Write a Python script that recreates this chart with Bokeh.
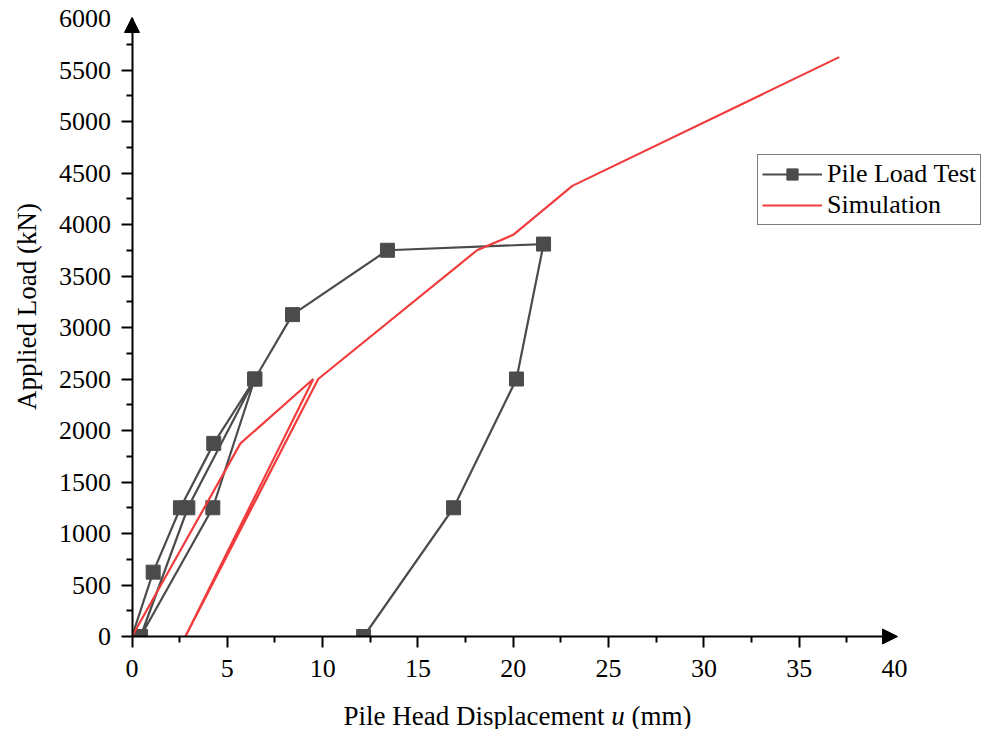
import math
from bokeh.plotting import figure
from bokeh.models import Range1d, FixedTicker, Label, Arrow, NormalHead, LinearAxis
from bokeh.embed import file_html
from bokeh.resources import INLINE

# ---- data ----
pile_x = [0, 1.11, 2.54, 4.29, 6.44, 4.24, 0.45, 2.93, 6.44, 8.42, 13.4, 21.59, 20.17, 16.87, 12.15]
pile_y = [0, 625, 1250, 1875, 2500, 1250, 0, 1250, 2500, 3125, 3750, 3810, 2500, 1250, 0]

sim_x = [0, 5.69, 9.51, 2.8, 9.77, 18.1, 20.0, 23.1, 37.1]
sim_y = [0, 1875, 2500, 0, 2500, 3750, 3900, 4375, 5625]

x_major = [0, 5, 10, 15, 20, 25, 30, 35]
x_minor = [2.5, 7.5, 12.5, 17.5, 22.5, 27.5, 32.5, 37.5]
y_major = [0, 500, 1000, 1500, 2000, 2500, 3000, 3500, 4000, 4500, 5000, 5500]
y_minor = [250, 750, 1250, 1750, 2250, 2750, 3250, 3750, 4250, 4750, 5250, 5750]

FONT = "Liberation Serif"
TICK_SIZE = "26px"
TITLE_SIZE = "27px"

# screen layout: x=0 at px 131.5, x=40 at px 894; y=0 at px 636, y=6000 at px 18
W, H = 985, 729
X0PX, XSC = 131.5, (894 - 131.5) / 40.0
Y0PX, YSC = 636.0, (636 - 18) / 6000.0
x_lo, x_hi = -X0PX / XSC, (W - X0PX) / XSC
y_lo, y_hi = -(H - Y0PX) / YSC, Y0PX / YSC

p = figure(width=W, height=H,
           x_range=Range1d(x_lo, x_hi), y_range=Range1d(y_lo, y_hi),
           x_axis_location=None, y_axis_location=None,
           output_backend="svg", toolbar_location=None, min_border=0)
p.outline_line_color = None
p.grid.visible = False
p.background_fill_color = "white"
p.border_fill_color = "white"

xaxis = LinearAxis(fixed_location=0, bounds=(0, 40),
                   ticker=FixedTicker(ticks=x_major, minor_ticks=x_minor))
yaxis = LinearAxis(fixed_location=0, bounds=(0, 6000),
                   ticker=FixedTicker(ticks=y_major, minor_ticks=y_minor))
for ax in (xaxis, yaxis):
    ax.axis_line_width = 2
    ax.axis_line_color = "black"
    ax.major_tick_line_width = 2
    ax.minor_tick_line_width = 2
    ax.major_tick_line_color = "black"
    ax.minor_tick_line_color = "black"
    ax.major_tick_in = 0
    ax.minor_tick_in = 0
    ax.major_tick_out = 11
    ax.minor_tick_out = 6
    ax.major_label_text_font = FONT
    ax.major_label_text_font_size = TICK_SIZE
    ax.major_label_text_color = "black"
xaxis.major_label_standoff = 12
yaxis.major_label_standoff = 10
p.add_layout(xaxis, "below")
p.add_layout(yaxis, "left")

# ---- series ----
PILE_COLOR = "#4b4b4b"
RED = "#f03c3c"
p.line(pile_x, pile_y, line_color=PILE_COLOR, line_width=2.2, legend_label="Pile Load Test")
p.scatter(pile_x, pile_y, marker="square", size=14, fill_color=PILE_COLOR,
          line_color=PILE_COLOR, legend_label="Pile Load Test")
p.line(sim_x, sim_y, line_color=RED, line_width=2.2, legend_label="Simulation")

# white masks outside the axes (markers are cut at the axes as in the original)
p.quad(left=x_lo, right=x_hi, bottom=y_lo, top=0, fill_color="white", line_color=None)
p.quad(left=x_lo, right=0, bottom=y_lo, top=y_hi, fill_color="white", line_color=None)

# ---- axis arrows ----
p.add_layout(Arrow(end=NormalHead(size=15, fill_color="black", line_color="black", line_width=1),
                   x_start=38.5, y_start=0, x_end=40.16, y_end=0, line_color=None))
p.add_layout(Arrow(end=NormalHead(size=15, fill_color="black", line_color="black", line_width=1),
                   x_start=0, y_start=5800, x_end=0, y_end=6010, line_color=None))

# ---- end tick labels under arrowheads ----
p.add_layout(Label(x=40, y=0, text="40", text_align="center", text_baseline="middle",
                   y_offset=-32, text_font=FONT, text_font_size=TICK_SIZE, text_color="black"))
p.add_layout(Label(x=0, y=6000, text="6000", text_align="right", text_baseline="middle",
                   x_offset=-21, text_font=FONT, text_font_size=TICK_SIZE, text_color="black"))

# ---- axis titles ----
p.add_layout(Label(x=(343 - X0PX) / XSC, y=0, text="Pile Head Displacement", text_align="left",
                   text_baseline="middle", y_offset=-79, text_font=FONT,
                   text_font_size=TITLE_SIZE, text_color="black"))
p.add_layout(Label(x=(617.5 - X0PX) / XSC, y=0, text="u", text_align="center", text_baseline="middle",
                   y_offset=-79, text_font=FONT, text_font_style="italic",
                   text_font_size=TITLE_SIZE, text_color="black"))
p.add_layout(Label(x=(631 - X0PX) / XSC, y=0, text="(mm)", text_align="left", text_baseline="middle",
                   y_offset=-79, text_font=FONT, text_font_size=TITLE_SIZE, text_color="black"))
p.add_layout(Label(x=(26 - X0PX) / XSC, y=(Y0PX - 306) / YSC, text="Applied Load (kN)",
                   angle=math.pi / 2, text_align="center", text_baseline="middle",
                   text_font=FONT, text_font_size=TITLE_SIZE, text_color="black"))

# ---- legend ----
lg = p.legend[0]
lg.location = (757, H - 225)
lg.label_text_font = FONT
lg.label_text_font_size = TICK_SIZE
lg.label_text_color = "black"
lg.border_line_color = "black"
lg.border_line_width = 1
lg.background_fill_color = "white"
lg.background_fill_alpha = 1
lg.glyph_width = 60
lg.glyph_height = 28
lg.label_height = 28
lg.label_standoff = 5
lg.padding = 4
lg.spacing = 1
lg.margin = 0

open("out.html", "w").write(file_html(p, INLINE))
